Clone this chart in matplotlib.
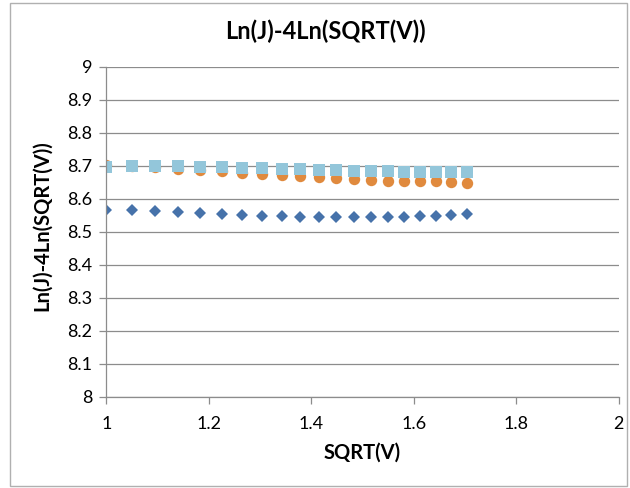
import matplotlib.pyplot as plt
from matplotlib.patches import Rectangle

# x = SQRT(V)
sqrt_v = [1.000, 1.049, 1.095, 1.140, 1.183, 1.225, 1.265, 1.304, 1.342, 1.378,
          1.414, 1.449, 1.483, 1.517, 1.549, 1.581, 1.612, 1.643, 1.673, 1.703]

# three series
s_diamond = [8.567, 8.565, 8.562, 8.560, 8.556, 8.553, 8.550, 8.548, 8.547, 8.546,
             8.545, 8.545, 8.545, 8.545, 8.545, 8.546, 8.547, 8.549, 8.551, 8.553]
s_circle = [8.702, 8.700, 8.695, 8.691, 8.687, 8.684, 8.679, 8.676, 8.672, 8.668,
            8.665, 8.662, 8.660, 8.657, 8.655, 8.654, 8.654, 8.654, 8.651, 8.648]
s_square = [8.697, 8.699, 8.700, 8.699, 8.697, 8.696, 8.694, 8.692, 8.691, 8.689,
            8.688, 8.686, 8.685, 8.684, 8.683, 8.682, 8.682, 8.681, 8.680, 8.680]

xticks = [1, 1.2, 1.4, 1.6, 1.8, 2]
xtick_labels = ['1', '1.2', '1.4', '1.6', '1.8', '2']
yticks = [8, 8.1, 8.2, 8.3, 8.4, 8.5, 8.6, 8.7, 8.8, 8.9, 9]
ytick_labels = ['8', '8.1', '8.2', '8.3', '8.4', '8.5', '8.6', '8.7', '8.8', '8.9', '9']

plt.rcParams['font.family'] = ['Lato', 'DejaVu Sans']

fig = plt.figure(figsize=(6.3, 4.88), dpi=100)
ax = fig.add_axes([0.169, 0.187, 0.813, 0.676])

# outer chart border
fig.patches.append(Rectangle((0.016, 0.004), 0.979, 0.99, transform=fig.transFigure,
                             fill=False, edgecolor='#b0b0b0', linewidth=1.0))

ax.plot(sqrt_v, s_diamond, 'D', color='#4672AA', markersize=6, markeredgewidth=0)
ax.plot(sqrt_v, s_circle, 'o', color='#E08A3E', markersize=8.2, markeredgewidth=0)
ax.plot(sqrt_v, s_square, 's', color='#93C6DA', markersize=8.2, markeredgewidth=0)

ax.set_xlim(1, 2)
ax.set_ylim(8, 9)
ax.set_xticks(xticks)
ax.set_xticklabels(xtick_labels)
ax.set_yticks(yticks)
ax.set_yticklabels(ytick_labels)

ax.grid(axis='y', color='#8c8c8c', linewidth=0.9)
ax.set_axisbelow(True)
for side in ['top', 'right']:
    ax.spines[side].set_visible(False)
for side in ['left', 'bottom']:
    ax.spines[side].set_color('#8c8c8c')
    ax.spines[side].set_linewidth(0.9)
ax.tick_params(axis='both', colors='#8c8c8c', length=5, width=0.9,
               labelcolor='black', labelsize=13)
ax.tick_params(axis='x', pad=9)
ax.tick_params(axis='y', pad=5)

fig.text(0.517, 0.936, 'Ln(J)-4Ln(SQRT(V))', fontsize=17, fontweight='bold',
         ha='center', va='center')
ax.set_xlabel('SQRT(V)', fontsize=14.5, fontweight='bold')
ax.xaxis.set_label_coords(0.5, -0.17)
ax.xaxis.label.set_va('center')
ax.set_ylabel('Ln(J)-4Ln(SQRT(V))', fontsize=14.5, fontweight='bold')
ax.yaxis.set_label_coords(-0.126, 0.52)
ax.yaxis.label.set_va('center')

fig.savefig('out.png', dpi=100)
